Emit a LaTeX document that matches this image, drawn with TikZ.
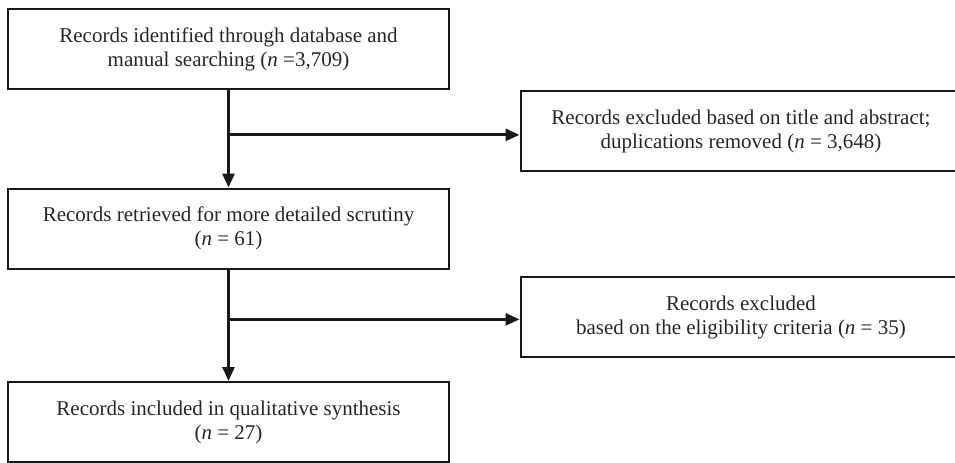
\documentclass[tikz,border=0pt]{standalone}
\usepackage{fontspec}
\setmainfont{Liberation Serif}
\usetikzlibrary{arrows.meta}
\usetikzlibrary{calc}

\begin{document}
\begin{tikzpicture}[x=0.5pt, y=-0.5pt,
    box/.style={draw=black!90, line width=1pt, minimum width=220.5pt, minimum height=40pt,
        align=center, inner sep=0pt, text=black!85, font=\fontsize{10.5}{12}\selectfont},
    flow/.style={draw=black!90, line width=1.4pt, -{Triangle[length=7pt, width=6pt]}}]

    \useasboundingbox (0,0) rectangle (955,462);
    \clip (0,0) rectangle (955,462);

    \node [box] (found) at (228.5, 49) {Records identified through database and\\ manual searching (\textit{n} =3,709)};
    \node [box] (screen) at (228.5, 228.5) {Records retrieved for more detailed scrutiny\\ (\textit{n} = 61)};
    \node [box] (incl) at (228.5, 422) {Records included in qualitative synthesis\\ (\textit{n} = 27)};

    \node [box] (excl1) at (741, 131) {Records excluded based on title and abstract;\\ duplications removed (\textit{n} = 3,648)};
    \node [box] (excl2) at (741, 317) {Records excluded\\ based on the eligibility criteria (\textit{n} = 35)};

    \coordinate (split1) at ($(found.south)!0.46!(screen.north)$);
    \coordinate (split2) at ($(screen.south)!0.447!(incl.north)$);

    \draw [flow] (found) -- (screen);
    \draw [flow] (split1) -- (split1 -| excl1.west);
    \draw [flow] (screen) -- (incl);
    \draw [flow] (split2) -- (split2 -| excl2.west);

\end{tikzpicture}
\end{document}
